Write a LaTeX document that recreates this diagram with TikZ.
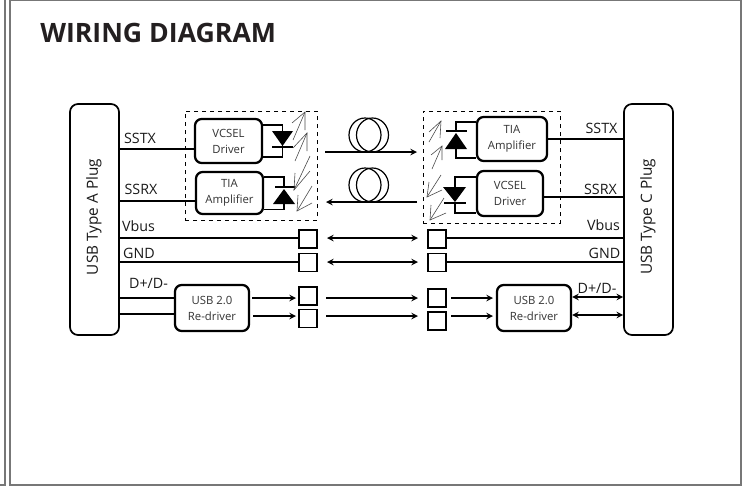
\documentclass[tikz,border=0pt]{standalone}
\usepackage{fontspec}
\setmainfont{Open Sans}
\usetikzlibrary{arrows}
\definecolor{framegray}{HTML}{777777}
\definecolor{inkblack}{HTML}{231F20}
\tikzset{
  plug/.style={draw,line width=1.3pt,rounded corners=6pt,minimum width=36.75pt,minimum height=173.25pt,inner sep=0pt},
  block/.style 2 args={draw,line width=1.7pt,rounded corners=5pt,minimum width=#1*.75pt,minimum height=#2*.75pt,inner sep=0pt,align=center,font=\fontsize{8.5}{12}\selectfont,text=black!80},
  pad/.style={draw,line width=1.4pt,minimum size=13.5pt,inner sep=0pt},
  label/.style={inner sep=0pt,font=\fontsize{10.7}{14}\selectfont,text=black!90},
  plugtext/.style={rotate=90,inner sep=0pt,font=\fontsize{11.5}{14}\selectfont,text=black!90},
  wire/.style={line width=1.2pt},
  link/.style={line width=1.2pt,-stealth},
  both/.style={line width=1.2pt,stealth-stealth},
  ray/.style={line width=.45pt,black!70},
  group/.style={draw,dashed,line width=.75pt},
}

\begin{document}
\begin{tikzpicture}[x=.75pt,y=-.75pt]
   \useasboundingbox (0,0) rectangle (742,486);
   \draw[framegray,line width=1pt] (0,485) -- (5,485) -- (5,0);
   \draw[framegray,line width=1pt] (10,0) -- (10,485) -- (741,485) -- (741,0.5) -- (10,0.5);

   \node[inner sep=0pt,anchor=west,text=inkblack,font=\bfseries\fontsize{20}{22}\selectfont] (title) at (40,33) {WIRING DIAGRAM};

   \node[plug] (plugA) at ( 94.5,219.5) {};
   \node[plug] (plugC) at (648.5,219.5) {};
   \node[plugtext] (plugAtext) at (94,217) {USB Type A Plug};
   \node[plugtext] (plugCtext) at (648,217) {USB Type C Plug};

   \node[group,minimum width=99pt,minimum height=81.75pt,inner sep=0pt] (groupL) at (251,165.5) {};
   \node[group,minimum width=102.75pt,minimum height=84pt,inner sep=0pt] (groupR) at (491.5,167) {};

   \node[block={67}{44}] (vcselL) at (228.5,141)   {VCSEL\\Driver};
   \node[block={67}{42}] (tiaL)   at (229.5,193)   {TIA\\Amplifier};
   \node[block={70}{44}] (tiaR)   at (512,139)     {TIA\\Amplifier};
   \node[block={66}{45}] (vcselR) at (510,193.5)   {VCSEL\\Driver};
   \node[block={74}{46}] (redrvL) at (212,308)     {USB 2.0\\Re-driver};
   \node[block={74}{46}] (redrvR) at (534,308)     {USB 2.0\\Re-driver};

   \node[pad] (padLa) at (308,239)   {};
   \node[pad] (padLb) at (308,262.5) {};
   \node[pad] (padLc) at (308,296)   {};
   \node[pad] (padLd) at (308,318.5) {};
   \node[pad] (padRa) at (437,239)   {};
   \node[pad] (padRb) at (437,262.5) {};
   \node[pad] (padRc) at (437,298)   {};
   \node[pad] (padRd) at (437,321)   {};

   \node[label] (sstxL) at (140,138)   {SSTX};
   \node[label] (ssrxL) at (141,189)   {SSRX};
   \node[label] (vbusL) at (138.5,226) {Vbus};
   \node[label] (gndL)  at (139,253)   {GND};
   \node[label] (dataL) at (148.5,283) {D+/D-};
   \node[label] (sstxR) at (601.5,128) {SSTX};
   \node[label] (ssrxR) at (600.5,189) {SSRX};
   \node[label] (vbusR) at (603.5,225) {Vbus};
   \node[label] (gndR)  at (604.5,253) {GND};
   \node[label] (dataR) at (597,288)   {D+/D-};

   \draw[wire] (plugA.east |- 0,149) -- (vcselL.west |- 0,149);
   \draw[wire] (plugA.east |- 0,201) -- (tiaL.west |- 0,201);
   \draw[wire] (tiaR.east |- 0,139) -- (plugC.west |- 0,139);
   \draw[wire] (vcselR.east |- 0,197) -- (plugC.west |- 0,197);
   \draw[wire] (plugA.east |- 0,238) -- (padLa.west |- 0,238);
   \draw[wire] (plugA.east |- 0,262) -- (padLb.west |- 0,262);
   \draw[wire] (padRa.east |- 0,238) -- (plugC.west |- 0,238);
   \draw[wire] (padRb.east |- 0,262) -- (plugC.west |- 0,262);
   \draw[wire] (plugA.east |- 0,298) -- (redrvL.west |- 0,298);
   \draw[wire] (plugA.east |- 0,314) -- (redrvL.west |- 0,314);

   \draw[link] (325,152) -- (417,152);
   \draw[link] (417,202) -- (326,202);
   \draw[both] (327,238) -- (418,238);
   \draw[both] (327,262) -- (418,262);
   \draw[link] (326,298) -- (418,298);
   \draw[link] (326,316) -- (418,316);
   \draw[link] (252,298) -- (296,298);
   \draw[link] (253,316) -- (296,316);
   \draw[link] (451,298) -- (493,298);
   \draw[link] (451,316) -- (493,316);
   \draw[both] (redrvR.east |- 0,297) -- (plugC.west |- 0,297);
   \draw[both] (redrvR.east |- 0,315) -- (plugC.west |- 0,315);

   \draw[line width=.9pt] (365,135) ellipse [x radius=16,y radius=17];
   \draw[line width=.9pt] (372.5,135) ellipse [x radius=16,y radius=17];
   \draw[line width=.9pt] (365,185) ellipse [x radius=16,y radius=17];
   \draw[line width=.9pt] (372.5,185) ellipse [x radius=16,y radius=17];

   \draw[wire] (vcselL.east |- 0,125) -| (282.5,147);
   \draw[wire] (vcselL.east |- 0,157) -| (282.5,147);
   \fill (272,131) -- (293,131) -- (282.5,146) -- cycle;
   \draw[wire] (272,147) -- (293,147);

   \draw[wire] (tiaL.east |- 0,177) -| (284,187);
   \draw[wire] (tiaL.east |- 0,209.5) -| (284,204);
   \fill (273,204) -- (295,204) -- (284,189) -- cycle;
   \draw[wire] (275,187) -- (295,187);

   \draw[wire] (tiaR.west |- 0,122) -| (456,131);
   \draw[wire] (tiaR.west |- 0,158) -| (456,149);
   \fill (445,149) -- (467,149) -- (456,133) -- cycle;
   \draw[wire] (446,131) -- (467,131);

   \draw[wire] (vcselR.west |- 0,177) -| (455,187);
   \draw[wire] (vcselR.west |- 0,213) -| (455,203);
   \fill (443,187) -- (466,187) -- (455,202) -- cycle;
   \draw[wire] (444,203) -- (466,203);

   \draw[ray] (293,140) -- (305,112);
   \draw[ray] (292,123) -- (305,112) -- (305,130);
   \draw[ray] (295,161) -- (307,133);
   \draw[ray] (293,148) -- (307,133) -- (307,151);
   \draw[ray] (310,156) -- (294,190);
   \draw[ray] (295,173) -- (294,190) -- (310,171);
   \draw[ray] (312,186) -- (297,211);
   \draw[ray] (298,195) -- (297,211) -- (312,203);

   \draw[ray] (429,142) -- (441,121);
   \draw[ray] (429,132) -- (441,121) -- (440,138);
   \draw[ray] (432,169) -- (442,146);
   \draw[ray] (431,155) -- (442,146) -- (442,160);
   \draw[ray] (441,175) -- (427,197);
   \draw[ray] (429,182) -- (427,197) -- (442,190);
   \draw[ray] (444,198) -- (430,220);
   \draw[ray] (431,205) -- (430,220) -- (446,213);
\end{tikzpicture}
\end{document}
